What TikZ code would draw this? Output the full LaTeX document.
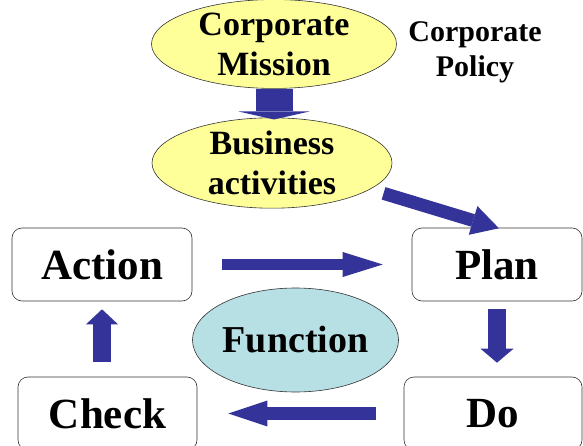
\documentclass[tikz,border=0pt]{standalone}
\usepackage{fontspec}
\setmainfont{Liberation Serif}
\usetikzlibrary{shapes.geometric,arrows.meta}
\definecolor{mission}{RGB}{255,255,153}
\definecolor{function}{RGB}{183,224,228}
\definecolor{navy}{RGB}{51,51,153}

\begin{document}
\begin{tikzpicture}[x=1pt, y=-1pt,
                    line width=0.6pt,
                    line cap=butt,
                    ]
    \tikzstyle{goal}=[ellipse,draw=black!80,fill=mission,inner sep=0pt,align=center,font=\fontsize{34}{40}\selectfont\bfseries]
    \tikzstyle{func}=[goal, fill=function, font=\fontsize{38}{44}\selectfont\bfseries];
    \tikzstyle{note}=[align=center, font=\fontsize{30}{35}\selectfont\bfseries];
    \tikzstyle{phase}=[rectangle,rounded corners=10pt,draw=black!80,fill=white,minimum height=73pt,inner sep=0pt,font=\fontsize{43}{50}\selectfont\bfseries];
    \tikzstyle{flow}=[draw=navy];

    \useasboundingbox (0,0) rectangle (583,446);

    \node[goal, minimum width=245pt, minimum height=82pt] (mission) at (274,44) {Corporate\\Mission};
    \node[note] (policy) at (475,52) {Corporate\\Policy};
    \node[goal, minimum width=240pt, minimum height=90pt] (business) at (272,163) {Business\\activities};

    \node[phase, minimum width=180pt] (action) at (102,264.5) {Action};
    \node[phase, minimum width=170pt] (plan) at (497,264.5) {Plan};
    \node[phase, minimum width=179pt] (check) at (107.5,413.5) {Check};
    \node[phase, minimum width=178pt] (do) at (493,413.5) {Do};
    \node[func, minimum width=187pt, minimum height=104pt] (function) at (295.5,340) {Function};

    % top of the plan
    \draw[flow, line width=37pt, -{Triangle[width=71pt,length=8pt,line width=0pt]}, shorten >=-2pt]
        (mission.south) -- (mission.south |- business.north);
    \draw[flow, line width=13pt, -{Triangle[width=30pt,length=27pt,line width=0pt]}, shorten <=14pt, shorten >=-2pt]
        (business.-15) -- (plan.north);

    % the cycle
    \draw[flow, line width=11.5pt, -{Triangle[width=25pt,length=40pt,line width=0pt]}, shorten <=30pt, shorten >=29pt]
        (action.east) -- (plan.west);
    \draw[flow, line width=18pt, -{Triangle[width=33pt,length=14pt,line width=0pt]}, shorten <=8pt, shorten >=14pt]
        (plan.south) -- (plan.south |- do.north);
    \draw[flow, line width=13pt, -{Triangle[width=26pt,length=39pt,line width=0pt]}, shorten <=28pt, shorten >=31pt]
        (do.west) -- (check.east);
    \draw[flow, line width=18pt, -{Triangle[width=32pt,length=15pt,line width=0pt]}, shorten <=15pt, shorten >=8pt]
        (action.south |- check.north) -- (action.south);
\end{tikzpicture}
\end{document}
